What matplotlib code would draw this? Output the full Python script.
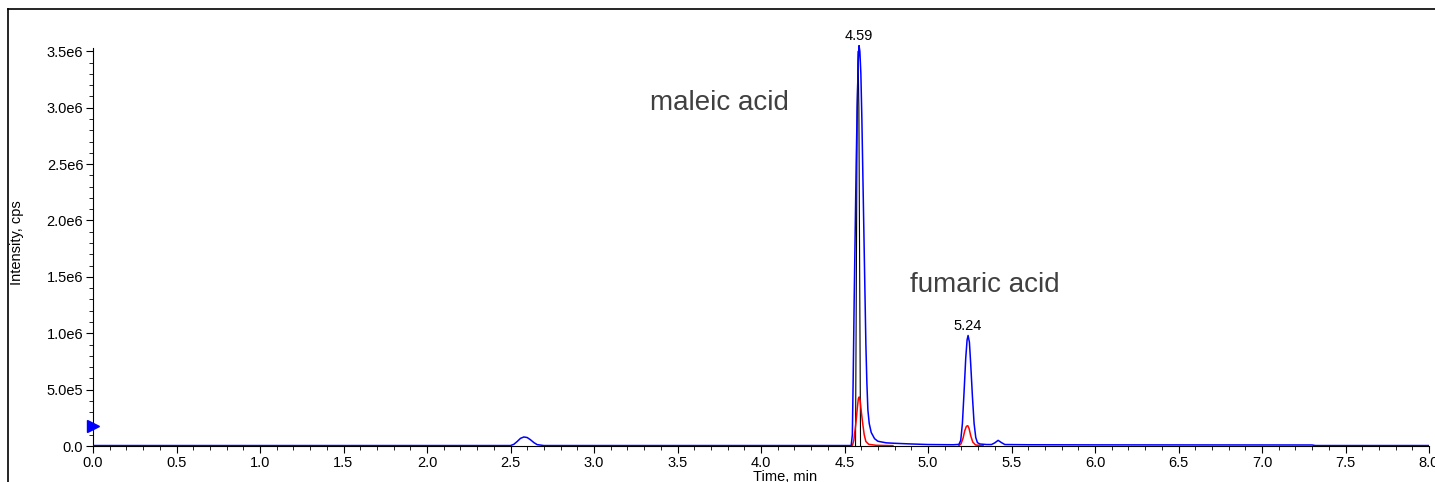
import numpy as np
import matplotlib
matplotlib.use("Agg")
import matplotlib.pyplot as plt
from matplotlib.lines import Line2D
from matplotlib.ticker import MultipleLocator, FixedLocator, FuncFormatter

plt.rcParams['font.family'] = ['Liberation Sans', 'DejaVu Sans']

# ---- data (time in min, intensity in cps) ----
blue_time = [0.00, 2.50, 2.52, 2.54, 2.56, 2.58, 2.60, 2.62, 2.64, 2.66, 2.70,
             4.540, 4.547, 4.552, 4.558, 4.564, 4.570, 4.576, 4.582, 4.587, 4.592,
             4.598, 4.604, 4.610, 4.616, 4.622, 4.628, 4.634, 4.640, 4.648, 4.660,
             4.680, 4.700, 4.750, 4.800, 4.900, 5.000, 5.150, 5.185, 5.196, 5.206,
             5.216, 5.226, 5.234, 5.240, 5.248, 5.256, 5.266, 5.276, 5.286, 5.296,
             5.310, 5.350, 5.380, 5.400, 5.420, 5.440, 5.460, 5.600, 6.000, 7.300,
             7.320, 8.000]
blue_int = [4e3, 4e3, 1.5e4, 4e4, 6.8e4, 8e4, 7.5e4, 5.5e4, 3e4, 1.2e4, 4e3,
            4e3, 1.0e5, 6e5, 1.3e6, 1.9e6, 2.5e6, 3.0e6, 3.4e6, 3.55e6, 3.5e6,
            3.3e6, 2.9e6, 2.4e6, 1.9e6, 1.4e6, 9e5, 5.6e5, 3.2e5, 2.0e5, 1.2e5,
            6.5e4, 4.2e4, 2.8e4, 2.4e4, 1.8e4, 1.3e4, 1.1e4, 1.4e4, 5e4, 2e5,
            4.8e5, 7.8e5, 9.4e5, 9.8e5, 9.2e5, 7.2e5, 4.4e5, 2.0e5, 7.5e4, 3e4,
            1.8e4, 1.3e4, 1.3e4, 2.8e4, 5e4, 3e4, 1.3e4, 1.1e4, 1e4, 9e3,
            4e3, 4e3]

red_time = [4.547, 4.556, 4.563, 4.570, 4.577, 4.583, 4.588, 4.594, 4.601, 4.609,
            4.618, 4.628, 4.645, 4.690, 4.790, np.nan,
            5.185, 5.198, 5.210, 5.220, 5.230, 5.238, 5.246, 5.256, 5.268, 5.285,
            5.330]
red_int = [3e3, 5e4, 1.4e5, 2.3e5, 3.4e5, 4.2e5, 4.35e5, 4.0e5, 3.0e5, 2.0e5,
           1.0e5, 4e4, 1.5e4, 6e3, 3e3, np.nan,
           3e3, 2e4, 7e4, 1.35e5, 1.75e5, 1.8e5, 1.55e5, 9e4, 3.5e4, 9e3,
           3e3]

black_time = [4.566, 4.576, 4.581, 4.586, 4.596]
black_int = [4e3, 3.0e6, 3.5e6, 3.0e6, 4e3]

peak_labels = ["4.59", "5.24"]
peak_time = [4.587, 5.240]
peak_int = [3.55e6, 9.8e5]

compound_names = ["maleic acid", "fumaric acid"]
compound_time = [3.75, 5.34]
compound_int = [3.04e6, 1.43e6]

marker_level = 1.8e5

# ---- figure ----
W, H = 1435, 482
fig = plt.figure(figsize=(W / 100, H / 100), dpi=100)
left_px, right_px, bottom_px, top_px = 93, 1429, 446, 40
ax = fig.add_axes([left_px / W, (H - bottom_px) / H,
                   (right_px - left_px) / W, (bottom_px - top_px) / H])
ax.set_xlim(0, 8.0)
ax.set_ylim(0, 3.6e6)

ax.plot(black_time, black_int, color='black', lw=0.8, zorder=2)
ax.plot(red_time, red_int, color='#ff0000', lw=1.1, zorder=3)
ax.plot(blue_time, blue_int, color='#0000ff', lw=1.1, zorder=4)

for lab, t, v in zip(peak_labels, peak_time, peak_int):
    ax.annotate(lab, (t, v), xytext=(0, 2), textcoords='offset points',
                ha='center', va='bottom', fontsize=10.5, color='black',
                annotation_clip=False)

for name, t, v in zip(compound_names, compound_time, compound_int):
    ax.text(t, v, name, ha='center', va='center', fontsize=20, color='#404040')

ax.plot([0], [marker_level], marker='>', color='#0000ff', markersize=8,
        clip_on=False, zorder=5, linestyle='none')

for s in ['top', 'right']:
    ax.spines[s].set_visible(False)
ax.spines['left'].set_bounds(0, 3.53e6)
for s in ['left', 'bottom']:
    ax.spines[s].set_linewidth(0.8)

ax.xaxis.set_major_locator(MultipleLocator(0.5))
ax.xaxis.set_minor_locator(MultipleLocator(0.1))
ax.yaxis.set_major_locator(FixedLocator([i * 5e5 for i in range(8)]))
ax.yaxis.set_minor_locator(FixedLocator([i * 1e5 for i in range(36)]))


def yfmt(v, pos):
    if v == 0:
        return "0.0"
    e = int(np.floor(np.log10(abs(v))))
    m = v / 10 ** e
    return f"{m:.1f}e{e}"


ax.yaxis.set_major_formatter(FuncFormatter(yfmt))
ax.xaxis.set_major_formatter(FuncFormatter(lambda v, p: f"{v:.1f}"))
ax.tick_params(axis='both', which='major', length=5, width=0.8,
               labelsize=10.5, direction='out', pad=2)
ax.tick_params(axis='both', which='minor', length=3, width=0.6, direction='out')

ax.set_ylabel("Intensity, cps", fontsize=10.5)
ax.yaxis.set_label_coords((24 - left_px) / (right_px - left_px), 0.5)
ax.set_xlabel("Time, min", fontsize=10.5)
ax.xaxis.set_label_coords((785 - left_px) / (right_px - left_px),
                          -(477 - bottom_px) / (bottom_px - top_px))
ax.xaxis.label.set_va('center')

# outer frame (top and left edges)
fig.add_artist(Line2D([8 / W, 8 / W], [0, 1 - 9 / H], color='black', lw=1.2,
                      transform=fig.transFigure))
fig.add_artist(Line2D([8 / W, 1], [1 - 9 / H, 1 - 9 / H], color='black', lw=1.2,
                      transform=fig.transFigure))

fig.savefig("out.png", dpi=100)
